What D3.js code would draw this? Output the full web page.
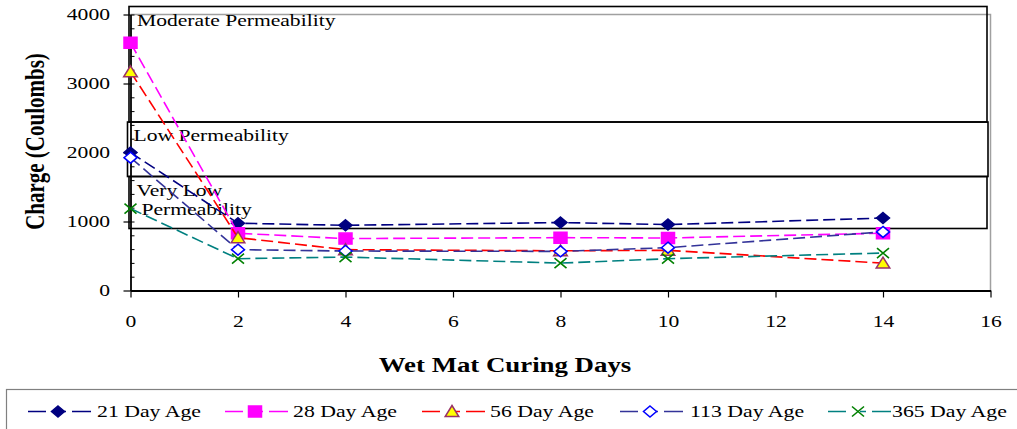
<!DOCTYPE html>
<html>
<head>
<meta charset="utf-8">
<script src="https://cdn.jsdelivr.net/npm/d3@7"></script>
<style>
  html, body { margin: 0; padding: 0; background: #fff; }
  svg { display: block; }
  svg text { font-family: "Liberation Serif", "Times New Roman", Times, serif !important; fill: #000; }
</style>
</head>
<body>
<svg id="chart" width="1017" height="429" font-family="Liberation Serif, serif"></svg>
<script>
// ---- data ----
const days = [0, 2, 4, 8, 10, 14];
const age21 = [2000, 975, 945, 985, 955, 1050];
const age28 = [3590, 830, 752, 766, 761, 830];
const age56 = [3170, 766, 592, 575, 582, 397];
const age113 = [1925, 592, 572, 567, 621, 849];
const age365 = [1188, 461, 485, 397, 461, 543];
const seriesNames = ["21 Day Age", "28 Day Age", "56 Day Age", "113 Day Age", "365 Day Age"];
const xTicks = [0, 2, 4, 6, 8, 10, 12, 14, 16];
const yTicks = [0, 1000, 2000, 3000, 4000];
const zoneLabels = ["Moderate Permeability", "Low Permeability", "Very Low", "Permeability"];

const series = [
  { name: seriesNames[0], values: age21, line: "#000080", marker: "diamond", fill: "#000080", stroke: "#000080" },
  { name: seriesNames[1], values: age28, line: "#ff00ff", marker: "square", fill: "#ff00ff", stroke: "#ff00ff" },
  { name: seriesNames[2], values: age56, line: "#ff0000", marker: "triangle", fill: "#ffff00", stroke: "#993366" },
  { name: seriesNames[3], values: age113, line: "#333399", marker: "diamond", fill: "#ffffff", stroke: "#0000ff" },
  { name: seriesNames[4], values: age365, line: "#008080", marker: "x", fill: "none", stroke: "#008000" }
];

const SX = 1.35; // horizontal stretch of text seen in reference
const FONT = "Liberation Serif, Times New Roman, serif";
const svg = d3.select("#chart");

const x = d3.scaleLinear().domain([0, 16]).range([130.5, 990.5]);
const y = d3.scaleLinear().domain([0, 4000]).range([290.5, 14.5]);

// plot area border (grey top & right)
svg.append("path")
  .attr("d", `M${x(0)},${y(4000)} H${x(16)} V${y(0)}`)
  .attr("fill", "none").attr("stroke", "#a0a0a0").attr("stroke-width", 1.5);

// permeability zone boxes
const boxes = [
  { x0: 129, x1: 987, y0: 6.5, y1: 122 },
  { x0: 127.5, x1: 988, y0: 122, y1: 176.5 },
  { x0: 129, x1: 987, y0: 176.5, y1: 228.5 }
];
svg.append("g").selectAll("rect").data(boxes).join("rect")
  .attr("x", d => d.x0).attr("y", d => d.y0)
  .attr("width", d => d.x1 - d.x0).attr("height", d => d.y1 - d.y0)
  .attr("fill", "none").attr("stroke", "#000").attr("stroke-width", 1.6);

// axes
const yAxis = d3.axisLeft(y).tickValues(yTicks).tickSize(7).tickSizeOuter(0).tickFormat(d3.format("d"));
const gy = svg.append("g").attr("transform", `translate(${x(0)},0)`).call(yAxis)
  .attr("font-family", FONT).attr("font-size", 16);
gy.select(".domain").attr("stroke", "#000").attr("stroke-width", 1.8);
gy.selectAll(".tick line").attr("stroke", "#000").attr("stroke-width", 1.2);
gy.selectAll(".tick text")
  .attr("x", -20.5 / SX).attr("dy", "0.34em")
  .attr("transform", `scale(${SX},1)`);

const yMinor = d3.axisRight(y).tickValues(d3.range(0, 4001, 200)).tickSize(4).tickFormat("");
const gym = svg.append("g").attr("transform", `translate(${x(0)},0)`).call(yMinor);
gym.select(".domain").remove();
gym.selectAll(".tick line").attr("stroke", "#000").attr("stroke-width", 1);

const xAxis = d3.axisBottom(x).tickValues(xTicks).tickSize(7).tickSizeOuter(0).tickFormat(d3.format("d"));
const gx = svg.append("g").attr("transform", `translate(0,${y(0)})`).call(xAxis)
  .attr("font-family", FONT).attr("font-size", 16);
gx.select(".domain").attr("stroke", "#000").attr("stroke-width", 1.8);
gx.selectAll(".tick line").attr("stroke", "#000").attr("stroke-width", 1.2);
gx.selectAll(".tick text")
  .attr("y", 37).attr("dy", 0)
  .attr("transform", `scale(${SX},1)`);

// helper for stretched text
function stretchedText(g, txt, tx, ty, opts = {}) {
  return g.append("text")
    .attr("transform", `translate(${tx},${ty}) scale(${opts.sx || SX},1)`)
    .attr("text-anchor", opts.anchor || "start")
    .attr("font-family", FONT)
    .attr("font-size", opts.size || 16)
    .attr("font-weight", opts.bold ? "bold" : "normal")
    .text(txt);
}

// zone labels
const zl = svg.append("g");
stretchedText(zl, zoneLabels[0], 137, 26);
stretchedText(zl, zoneLabels[1], 133.5, 141);
stretchedText(zl, zoneLabels[2], 136.5, 196);
stretchedText(zl, zoneLabels[3], 141.5, 215);

// marker paths
function markerPath(type) {
  switch (type) {
    case "diamond": return "M0,-5.5L6.5,0L0,5.5L-6.5,0Z";
    case "square": return "M-6.5,-5.5H6.5V5.5H-6.5Z";
    case "triangle": return "M0,-6L6.8,5L-6.8,5Z";
    case "x": return "M-6,-5L6,5M-6,5L6,-5";
  }
}
function drawMarker(g, s, cx, cy) {
  g.append("path")
    .attr("transform", `translate(${cx},${cy})`)
    .attr("d", markerPath(s.marker))
    .attr("fill", s.fill)
    .attr("stroke", s.stroke)
    .attr("stroke-width", s.marker === "x" ? 1.6 : 1.5)
    .attr("stroke-linejoin", "miter");
}

// series
const line = d3.line().x((d, i) => x(days[i])).y(d => y(d));
series.forEach(s => {
  const g = svg.append("g");
  g.append("path")
    .attr("d", line(s.values))
    .attr("fill", "none")
    .attr("stroke", s.line)
    .attr("stroke-width", 1.6)
    .attr("stroke-dasharray", "12,5");
  s.values.forEach((v, i) => drawMarker(g, s, x(days[i]), y(v)));
});

// axis titles
svg.append("text")
  .attr("transform", "translate(44,141.5) rotate(-90) scale(1,1.35)")
  .attr("text-anchor", "middle")
  .attr("font-family", FONT)
  .attr("font-size", 21).attr("font-weight", "bold")
  .text("Charge (Coulombs)");
stretchedText(svg, "Wet Mat Curing Days", 505, 371.5, { anchor: "middle", size: 22, bold: true, sx: 1.22 });

// legend
const lg = svg.append("g");
lg.append("rect").attr("x", 6.5).attr("y", 389.5).attr("width", 1020).attr("height", 60)
  .attr("fill", "none").attr("stroke", "#808080").attr("stroke-width", 1.2);
const legendX = [28, 225, 422, 620, 828];
const legendTextX = [97, 293, 490, 690, 892];
series.forEach((s, i) => {
  const lx = legendX[i];
  lg.append("line")
    .attr("x1", lx).attr("x2", lx + 63).attr("y1", 411.5).attr("y2", 411.5)
    .attr("stroke", s.line).attr("stroke-width", 1.6)
    .attr("stroke-dasharray", "18,14,6,6,19");
  drawMarker(lg, s, lx + 30, 411.5);
  stretchedText(lg, s.name, legendTextX[i], 416.5, { size: 16.5, sx: 1.32 });
});
</script>
</body>
</html>
